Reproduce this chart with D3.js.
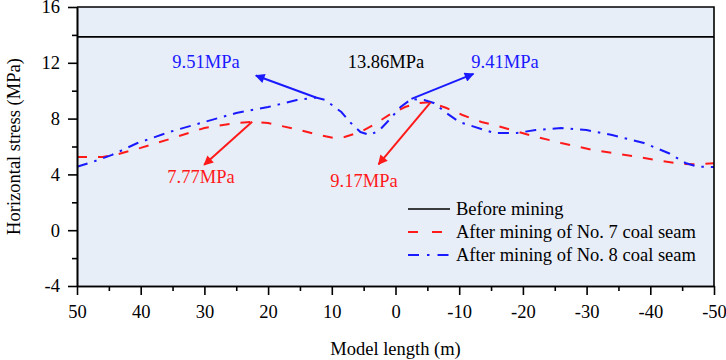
<!DOCTYPE html>
<html>
<head>
<meta charset="utf-8">
<script src="https://cdn.jsdelivr.net/npm/d3@7"></script>
<style>
  body { margin: 0; background: #fff; }
  svg text { font-family: "Liberation Serif", "Times New Roman", serif; }
</style>
</head>
<body>
<div id="chart"></div>
<script>
// stress along model length (m), values in MPa
const beforeX = [50, -50];
const beforeY = [13.86, 13.86];

const seam7X = [50, 46, 44, 40, 35, 30, 25, 22.5, 20, 15, 12, 9.5, 8, 5.5, 3.5, 1, -1.5, -3.5, -5.5, -8, -10.5, -13.5, -15.5, -21, -26, -31, -38, -42, -45, -47, -50];
const seam7Y = [5.25, 5.25, 5.4, 5.9, 6.6, 7.33, 7.68, 7.77, 7.68, 7.18, 6.82, 6.6, 6.68, 7.04, 7.54, 8.26, 8.83, 9.1, 9.17, 8.76, 8.26, 7.76, 7.54, 6.82, 6.25, 5.75, 5.25, 4.95, 4.75, 4.72, 4.8];

const seam8X = [50, 47.5, 44.5, 40.5, 35.5, 30, 25, 20, 15.5, 12.5, 11, 8.5, 7, 5.5, 4, 2.5, 1, -0.8, -2.5, -4.5, -6, -8, -10, -14, -15.5, -19, -22, -26, -30, -34, -39, -43, -45.5, -47.5, -50];
const seam8Y = [4.55, 4.9, 5.4, 6.25, 7.04, 7.76, 8.4, 8.83, 9.33, 9.51, 9.33, 8.47, 7.68, 7.04, 6.82, 7.18, 7.9, 8.83, 9.41, 9.33, 9.12, 8.4, 7.76, 7.18, 6.97, 6.97, 7.18, 7.33, 7.18, 6.82, 6.25, 5.5, 4.82, 4.55, 4.53];

const seriesNames = ["Before mining", "After mining of No. 7 coal seam", "After mining of No. 8 coal seam"];

const xTicks = [50, 40, 30, 20, 10, 0, -10, -20, -30, -40, -50];
const yTicks = [-4, 0, 4, 8, 12, 16];

// annotated peaks: x, value, label
const annX = [12.5, 0, -2.5, 22.5, -5.5];
const annY = [9.51, 13.86, 9.41, 7.77, 9.17];
const annText = ["9.51MPa", "13.86MPa", "9.41MPa", "7.77MPa", "9.17MPa"];

const width = 726,
  height = 360,
  margin = { top: 7, right: 12, bottom: 74, left: 77 },
  fs = 18.5;

const svg = d3
  .select("#chart")
  .append("svg")
  .attr("width", width)
  .attr("height", height)
  .attr("viewBox", [0, 0, width, height]);

const x = d3
  .scaleLinear()
  .domain([50, -50])
  .range([margin.left, width - margin.right]);

const y = d3
  .scaleLinear()
  .domain([-4, 16])
  .range([height - margin.bottom, margin.top]);

// plot background
svg
  .append("rect")
  .attr("x", margin.left)
  .attr("y", margin.top)
  .attr("width", width - margin.left - margin.right)
  .attr("height", height - margin.top - margin.bottom)
  .attr("fill", "#e8eef8");

const defs = svg.append("defs");
[["red", "#ff1a1a"], ["blue", "#1a1aff"]].forEach(([id, c]) => {
  defs
    .append("marker")
    .attr("id", "head-" + id)
    .attr("viewBox", "0 0 10 10")
    .attr("refX", 9)
    .attr("refY", 5)
    .attr("markerWidth", 6)
    .attr("markerHeight", 4.8)
    .attr("markerUnits", "strokeWidth")
    .attr("orient", "auto")
    .append("path")
    .attr("d", "M0,0 L10,5 L0,10 z")
    .attr("fill", c);
});

const zip = (xs, ys) => xs.map((d, i) => [d, ys[i]]);
const line = d3
  .line()
  .x((d) => x(d[0]))
  .y((d) => y(d[1]));

const series = [
  { data: zip(beforeX, beforeY), color: "#000", dash: null, width: 1.6 },
  { data: zip(seam7X, seam7Y), color: "#ff1a1a", dash: "10,11", width: 2 },
  { data: zip(seam8X, seam8Y), color: "#1a1aff", dash: "11,7,2.5,7", width: 2 },
];

svg
  .append("g")
  .selectAll("path")
  .data(series)
  .join("path")
  .attr("d", (d) => line(d.data))
  .attr("fill", "none")
  .attr("stroke", (d) => d.color)
  .attr("stroke-width", (d) => d.width)
  .attr("stroke-dasharray", (d) => d.dash);

// axes (hyphen minus like the original)
const fmt = (d) => String(d);
svg
  .append("g")
  .attr("transform", `translate(0,${height - margin.bottom})`)
  .call(d3.axisBottom(x).tickValues(xTicks).tickSize(9).tickSizeOuter(0).tickPadding(9.5).tickFormat(fmt));
svg
  .append("g")
  .attr("transform", `translate(0,${height - margin.bottom})`)
  .call(d3.axisBottom(x).tickValues(d3.range(45, -50, -10)).tickSize(5).tickSizeOuter(0).tickFormat(""));

svg
  .append("g")
  .attr("transform", `translate(${margin.left},0)`)
  .call(d3.axisLeft(y).tickValues(yTicks).tickSize(9).tickSizeOuter(0).tickPadding(8).tickFormat(fmt));
svg
  .append("g")
  .attr("transform", `translate(${margin.left},0)`)
  .call(d3.axisLeft(y).tickValues([-2, 2, 6, 10, 14]).tickSize(5).tickSizeOuter(0).tickFormat(""));

svg.selectAll(".domain, .tick line").attr("stroke", "#000").attr("stroke-width", 1.6);
svg.selectAll(".tick text").attr("font-size", fs).attr("fill", "#000");

// frame top and right
svg
  .append("path")
  .attr("d", `M${margin.left},${margin.top}H${width - margin.right}V${height - margin.bottom}`)
  .attr("fill", "none")
  .attr("stroke", "#000")
  .attr("stroke-width", 1.6);

// axis titles
svg
  .append("text")
  .attr("x", (margin.left + width - margin.right) / 2)
  .attr("y", 355)
  .attr("text-anchor", "middle")
  .attr("font-size", fs)
  .text("Model length (m)");

svg
  .append("text")
  .attr("transform", `translate(20,${(margin.top + height - margin.bottom) / 2}) rotate(-90)`)
  .attr("text-anchor", "middle")
  .attr("font-size", fs)
  .text("Horizontal stress (MPa)");

// annotations: arrow offsets (px) from the peak and label spots
const annColor = ["#1a1aff", "#000", "#1a1aff", "#ff1a1a", "#ff1a1a"];
const annArrow = [[-60, -22], null, [62, -25], [-48, 43], [-52, 62]];
const annLabel = [[206, 68], [386, 68], [505, 68], [201, 183], [364, 187]];

annText.forEach((t, i) => {
  const px = x(annX[i]),
    py = y(annY[i]);
  if (annArrow[i]) {
    svg
      .append("line")
      .attr("x1", px)
      .attr("y1", py)
      .attr("x2", px + annArrow[i][0])
      .attr("y2", py + annArrow[i][1])
      .attr("stroke", annColor[i])
      .attr("stroke-width", 2)
      .attr("marker-end", `url(#head-${annColor[i] === "#ff1a1a" ? "red" : "blue"})`);
  }
  svg
    .append("text")
    .attr("x", annLabel[i][0])
    .attr("y", annLabel[i][1])
    .attr("text-anchor", "middle")
    .attr("font-size", fs)
    .attr("fill", annColor[i])
    .text(t);
});

// legend
const legColor = series.map((d) => d.color);
const leg = svg
  .append("g")
  .selectAll("g")
  .data(seriesNames)
  .join("g")
  .attr("transform", (d, i) => `translate(408,${209 + i * 23})`);
leg
  .append("line")
  .attr("x1", 0)
  .attr("x2", 42)
  .attr("stroke", (d, i) => legColor[i])
  .attr("stroke-width", (d, i) => series[i].width)
  .attr("stroke-dasharray", (d, i) => (i === 1 ? "10,14" : i === 2 ? "11,8,2.5,8" : null));
leg
  .append("text")
  .attr("x", 48)
  .attr("dy", "0.32em")
  .attr("font-size", fs)
  .text((d) => d);
</script>
</body>
</html>
